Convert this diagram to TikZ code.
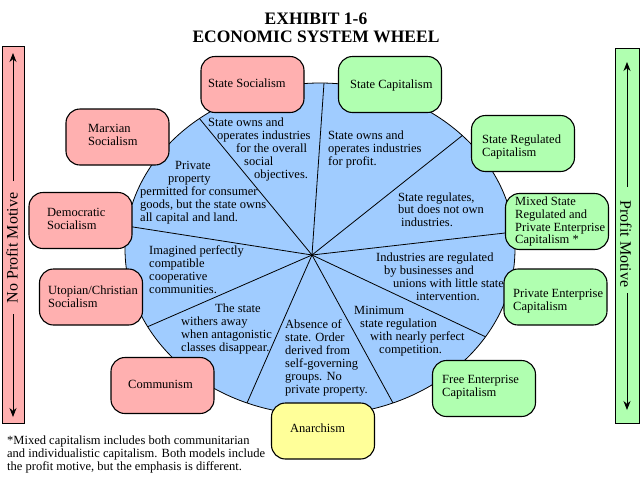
\documentclass[tikz,border=0pt]{standalone}
\usepackage{fontspec}
\setmainfont{Liberation Serif}
\usetikzlibrary{arrows.meta,calc}
\definecolor{pinkc}{RGB}{255,176,176}
\definecolor{greenc}{RGB}{176,255,176}
\definecolor{yellowc}{RGB}{255,255,153}
\definecolor{bluec}{RGB}{160,204,255}
\newcommand\wl[4]{\node[wtxt] (#1) at (#2,#3) {#4};}
\begin{document}
\begin{tikzpicture}[x=1pt,y=-1pt,
  wtxt/.style={anchor=base west,inner sep=0pt,font=\fontsize{12.5}{13}\selectfont},
  box/.style={draw=black,line width=1.1pt,rounded corners=14pt,fill=#1,minimum width=103pt,minimum height=56pt,inner sep=0pt},
  spoke/.style={draw=black,line width=0.8pt},
  bar/.style={draw=black,line width=1pt,fill=#1},
  barar/.style={line width=0.8pt,-{Stealth[length=9pt,width=7pt]}},
  bartxt/.style={inner sep=0pt,font=\fontsize{16}{18}\selectfont},
  ttl/.style={font=\bfseries\fontsize{17.5}{18}\selectfont,inner sep=0pt,anchor=base}
]
\useasboundingbox (0,0) rectangle (640,480);
\fill[white] (0,0) rectangle (640,480);

% title
\node[ttl] (t1) at (316,24) {EXHIBIT 1-6};
\node[ttl] (t2) at (316,42) {ECONOMIC SYSTEM WHEEL};

% wheel
\fill[bluec] (320,249) ellipse [x radius=195pt, y radius=166pt];
\coordinate (hub) at (312,255);
\coordinate (e1) at (324,83);
\coordinate (e2) at (199,118);
\coordinate (e3) at (133,227);
\coordinate (e4) at (147,327);
\coordinate (e5) at (247,403);
\coordinate (e6) at (393,403);
\coordinate (e7) at (486,337);
\coordinate (e8) at (505,233);
\coordinate (e9) at (463,135);
\begin{scope}
\clip (320,249) ellipse [x radius=195pt, y radius=166pt];
\foreach \e in {e1,e2,e3,e4,e5,e6,e7,e8,e9}{
  \draw[spoke] (hub) -- ($(hub)!1.5!(\e)$);
}
\end{scope}
\draw[line width=0.8pt] (320,249) ellipse [x radius=195pt, y radius=166pt];

% region texts
\wl{a1}{208}{126}{State owns and}
\wl{a2}{217}{139}{operates industries}
\wl{a3}{236}{152}{for the overall}
\wl{a4}{244}{165}{social}
\wl{a5}{254}{178}{objectives.}

\wl{b1}{175}{169}{Private}
\wl{b2}{168}{182}{property}
\wl{b3}{140}{195}{permitted for consumer}
\wl{b4}{140}{208}{goods, but the state owns}
\wl{b5}{140}{221}{all capital and land.}

\wl{c1}{328}{139}{State owns and}
\wl{c2}{328}{152}{operates industries}
\wl{c3}{328}{165}{for profit.}

\wl{d1}{398}{201}{State regulates,}
\wl{d2}{398}{213}{but does not own}
\wl{d3}{401}{226}{industries.}

\wl{h1}{376}{261}{Industries are regulated}
\wl{h2}{384}{274}{by businesses and}
\wl{h3}{393}{287}{unions with little state}
\wl{h4}{416}{300}{intervention.}

\wl{i1}{354}{314}{Minimum}
\wl{i2}{360}{327}{state regulation}
\wl{i3}{370}{340}{with nearly perfect}
\wl{i4}{379}{353}{competition.}

\wl{g1}{285}{328}{Absence of}
\wl{g2}{285}{341}{state. Order}
\wl{g3}{285}{354}{derived from}
\wl{g4}{285}{367}{self-governing}
\wl{g5}{285}{380}{groups. No}
\wl{g6}{285}{393}{private property.}

\wl{f1}{215}{312}{The state}
\wl{f2}{181}{325}{withers away}
\wl{f3}{181}{338}{when antagonistic}
\wl{f4}{181}{351}{classes disappear.}

\wl{k1}{149}{254}{Imagined perfectly}
\wl{k2}{149}{267}{compatible}
\wl{k3}{149}{280}{cooperative}
\wl{k4}{149}{293}{communities.}

% boxes
\node[box=pinkc] (ss) at (252.5,84.5) {};
\node[box=greenc] (sc) at (390,84.5) {};
\node[box=pinkc] (mx) at (117.5,137) {};
\node[box=pinkc] (ds) at (80.5,220.5) {};
\node[box=pinkc] (ut) at (91,297) {};
\node[box=pinkc] (cm) at (162.5,385.5) {};
\node[box=yellowc] (an) at (323,431) {};
\node[box=greenc] (fe) at (484,388.5) {};
\node[box=greenc] (pe) at (555.5,297) {};
\node[box=greenc] (mi) at (557,221.5) {};
\node[box=greenc] (sr) at (523,143.5) {};

\wl{ssT}{208}{87}{State Socialism}
\wl{scT}{350}{88}{State Capitalism}
\wl{mxT1}{88}{132}{Marxian}
\wl{mxT2}{88}{145}{Socialism}
\wl{dsT1}{47}{216}{Democratic}
\wl{dsT2}{47}{229}{Socialism}
\wl{utT1}{48}{294}{Utopian/Christian}
\wl{utT2}{48}{307}{Socialism}
\wl{cmT}{128}{388}{Communism}
\wl{anT}{290}{432}{Anarchism}
\wl{feT1}{442}{383}{Free Enterprise}
\wl{feT2}{442}{396}{Capitalism}
\wl{peT1}{513}{297}{Private Enterprise}
\wl{peT2}{513}{310}{Capitalism}
\wl{miT1}{515}{205}{Mixed State}
\wl{miT2}{515}{218}{Regulated and}
\wl{miT3}{515}{231}{Private Enterprise}
\wl{miT4}{515}{243}{Capitalism *}
\wl{srT1}{482}{143}{State Regulated}
\wl{srT2}{482}{156}{Capitalism}

% side bars
\path[bar=pinkc] (2,46) rectangle (24,423);
\coordinate (la1) at (13,181);
\coordinate (la2) at (13,53);
\coordinate (lb1) at (13,314);
\coordinate (lb2) at (13,417);
\draw[barar] (la1) -- (la2);
\draw[barar] (lb1) -- (lb2);
\node[bartxt,rotate=90] (lt) at (12,248) {No Profit Motive};

\path[bar=greenc] (615,48) rectangle (639,423);
\coordinate (ra1) at (627,187);
\coordinate (ra2) at (627,62);
\coordinate (rb1) at (627,293);
\coordinate (rb2) at (627,410);
\draw[barar] (ra1) -- (ra2);
\draw[barar] (rb1) -- (rb2);
\node[bartxt,rotate=-90] (rt) at (626,244) {Profit Motive};

% footnote
\wl{n1}{7}{444}{*Mixed capitalism includes both communitarian}
\wl{n2}{7}{457}{and individualistic capitalism. Both models include}
\wl{n3}{7}{470}{the profit motive, but the emphasis is different.}
\end{tikzpicture}
\end{document}
